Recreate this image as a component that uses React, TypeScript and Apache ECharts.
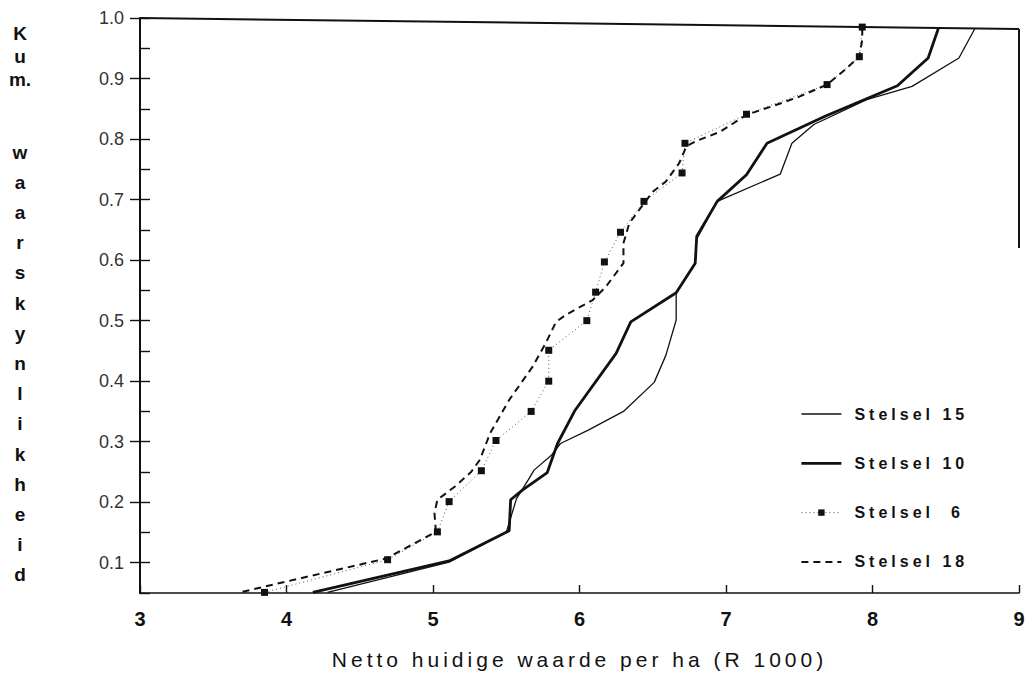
import React, { useEffect, useRef } from "react";
import * as echarts from "echarts";

const xTicks = [3, 4, 5, 6, 7, 8, 9];
const yLabelValues = [0.1, 0.2, 0.3, 0.4, 0.5, 0.6, 0.7, 0.8, 0.9, 1.0];

const seriesNames = ["Stelsel 15", "Stelsel 10", "Stelsel  6", "Stelsel 18"];

const s15x = [4.28, 5.11, 5.5, 5.57, 5.65, 5.69, 5.81, 5.87, 6.06, 6.3, 6.51, 6.59, 6.66, 6.66, 6.79, 6.8, 6.94, 7.37, 7.45, 7.6, 7.96, 8.27, 8.59, 8.7];
const s15y = [0.051, 0.101, 0.15, 0.206, 0.237, 0.253, 0.278, 0.297, 0.319, 0.35, 0.398, 0.443, 0.501, 0.546, 0.595, 0.635, 0.697, 0.742, 0.793, 0.824, 0.865, 0.887, 0.934, 0.983];

const s10x = [4.18, 5.11, 5.52, 5.53, 5.61, 5.78, 5.85, 5.97, 6.25, 6.35, 6.66, 6.79, 6.8, 6.94, 7.14, 7.28, 7.68, 8.17, 8.38, 8.45];
const s10y = [0.051, 0.103, 0.153, 0.204, 0.22, 0.249, 0.297, 0.352, 0.446, 0.498, 0.546, 0.595, 0.639, 0.697, 0.741, 0.793, 0.838, 0.888, 0.934, 0.983];

const s6x = [3.85, 4.69, 5.03, 5.11, 5.33, 5.43, 5.67, 5.79, 5.79, 6.05, 6.11, 6.17, 6.28, 6.44, 6.7, 6.72, 7.14, 7.69, 7.91, 7.93];
const s6y = [0.051, 0.105, 0.151, 0.201, 0.252, 0.302, 0.35, 0.4, 0.451, 0.5, 0.547, 0.597, 0.646, 0.697, 0.744, 0.793, 0.841, 0.89, 0.936, 0.985];

const s18x = [3.7, 4.0, 4.68, 5.02, 5.01, 5.03, 5.15, 5.26, 5.32, 5.39, 5.52, 5.68, 5.77, 5.84, 5.91, 6.09, 6.18, 6.3, 6.3, 6.34, 6.5, 6.59, 6.68, 6.73, 6.8, 6.96, 7.14, 7.35, 7.5, 7.69, 7.8, 7.91, 7.93, 7.93];
const s18y = [0.052, 0.069, 0.107, 0.151, 0.182, 0.204, 0.226, 0.25, 0.27, 0.314, 0.369, 0.424, 0.463, 0.498, 0.51, 0.534, 0.556, 0.595, 0.628, 0.661, 0.713, 0.73, 0.76, 0.788, 0.797, 0.812, 0.84, 0.857, 0.87, 0.89, 0.912, 0.936, 0.964, 0.985];

const xTitle = "Netto huidige waarde per ha (R 1000)";
const yTitleTop = "K\nu\nm.";
const yTitleBottom = "w\na\na\nr\ns\nk\ny\nn\nl\ni\nk\nh\ne\ni\nd";

const zip = (xs: number[], ys: number[]) => xs.map((x, i) => [x, ys[i]]);

export default function App() {
  const ref = useRef<HTMLDivElement>(null);
  useEffect(() => {
    if (!ref.current) return;
    const chart = echarts.init(ref.current, undefined, { renderer: "svg" });
    const ink = "#111";
    const hidden = { color: "rgba(0,0,0,0)", borderColor: "rgba(0,0,0,0)", borderWidth: 0 };
    const yAxisBase = { type: "value", min: 0.05, max: 1.0, interval: 0.05, splitLine: { show: false } };
    chart.setOption({
      animation: false,
      backgroundColor: "#fff",
      grid: { left: 140, right: 9, top: 18, bottom: 84 },
      legend: {
        orient: "vertical",
        left: 795,
        top: 401,
        itemWidth: 40,
        itemHeight: 8,
        itemGap: 33.3,
        selectedMode: false,
        data: [
          { name: seriesNames[0], itemStyle: hidden, lineStyle: { width: 1.3, color: ink } },
          { name: seriesNames[1], itemStyle: hidden, lineStyle: { width: 2.8, color: ink } },
          { name: seriesNames[2], lineStyle: { width: 1, color: "#555", type: [1, 3] } },
          { name: seriesNames[3], itemStyle: hidden, lineStyle: { width: 2, color: ink, type: [7, 5] } },
        ],
        textStyle: { fontFamily: "Liberation Sans", fontWeight: "bold", fontSize: 16, color: ink, padding: [0, 0, 0, 8] },
      },
      xAxis: {
        type: "value",
        min: 3,
        max: 9,
        interval: 1,
        splitLine: { show: false },
        axisLine: { lineStyle: { color: ink, width: 1.6 } },
        axisTick: { inside: true, length: 8, lineStyle: { color: ink, width: 1.4 } },
        axisLabel: {
          margin: 16,
          fontFamily: "Liberation Sans",
          fontWeight: "bold",
          fontSize: 20,
          color: ink,
          formatter: (v: number) => (xTicks.includes(Math.round(v)) ? String(Math.round(v)) : ""),
        },
        name: xTitle,
        nameLocation: "middle",
        nameGap: 56,
        nameTextStyle: { fontFamily: "Liberation Sans", fontSize: 21, color: ink },
      },
      yAxis: [
        {
          ...yAxisBase,
          axisLine: { show: true, lineStyle: { color: ink, width: 2 } },
          axisTick: { show: true, inside: true, length: 10, lineStyle: { color: ink, width: 1.4 } },
          axisLabel: {
            margin: 16,
            fontFamily: "Liberation Sans",
            fontSize: 18,
            color: "#333",
            formatter: (v: number) => {
              const r = Math.round(v * 100);
              return r % 10 === 0 ? (r / 100).toFixed(1) : "";
            },
          },
        },
        {
          ...yAxisBase,
          position: "left",
          axisLine: { show: false },
          axisLabel: { show: false },
          axisTick: { show: true, inside: false, length: 10, customValues: yLabelValues, lineStyle: { color: ink, width: 1.4 } },
        },
      ],
      graphic: [
        { type: "text", x: 20, y: 22, style: { text: yTitleTop, textAlign: "center", textVerticalAlign: "top", font: 'bold 19px "Liberation Sans"', lineHeight: 23, fill: ink } },
        { type: "text", x: 20, y: 137, style: { text: yTitleBottom, textAlign: "center", textVerticalAlign: "top", font: 'bold 19px "Liberation Sans"', lineHeight: 30.2, fill: ink } },
      ],
      series: [
        {
          name: seriesNames[0],
          type: "line",
          data: zip(s15x, s15y),
          symbol: "none",
          lineStyle: { color: ink, width: 1.3 },
          itemStyle: { color: ink },
          markLine: {
            silent: true,
            symbol: ["none", "none"],
            label: { show: false },
            lineStyle: { color: ink, width: 2, type: "solid" },
            data: [
              [{ coord: [3, 1.0] }, { coord: [9, 0.982] }],
              [{ coord: [9, 0.982] }, { coord: [9, 0.62] }],
            ],
          },
        },
        {
          name: seriesNames[1],
          type: "line",
          data: zip(s10x, s10y),
          symbol: "none",
          lineStyle: { color: ink, width: 2.8 },
          itemStyle: { color: ink },
        },
        {
          name: seriesNames[2],
          type: "line",
          data: zip(s6x, s6y),
          symbol: "rect",
          symbolSize: 7,
          showSymbol: true,
          lineStyle: { color: "#555", width: 1, type: [1, 3] },
          itemStyle: { color: ink },
        },
        {
          name: seriesNames[3],
          type: "line",
          data: zip(s18x, s18y),
          symbol: "none",
          lineStyle: { color: ink, width: 2, type: [7, 5] },
          itemStyle: { color: ink },
        },
      ],
    });
    return () => chart.dispose();
  }, []);
  return (
    <>
      <style>{`#chart text[style*="16px"], #chart text[style*="21px"], #chart text[font-size="16px"], #chart text[font-size="21px"] { letter-spacing: 4px; }`}</style>
      <div id="chart" ref={ref} style={{ position: "fixed", left: 0, top: 0, width: 1028, height: 677 }} />
    </>
  );
}
